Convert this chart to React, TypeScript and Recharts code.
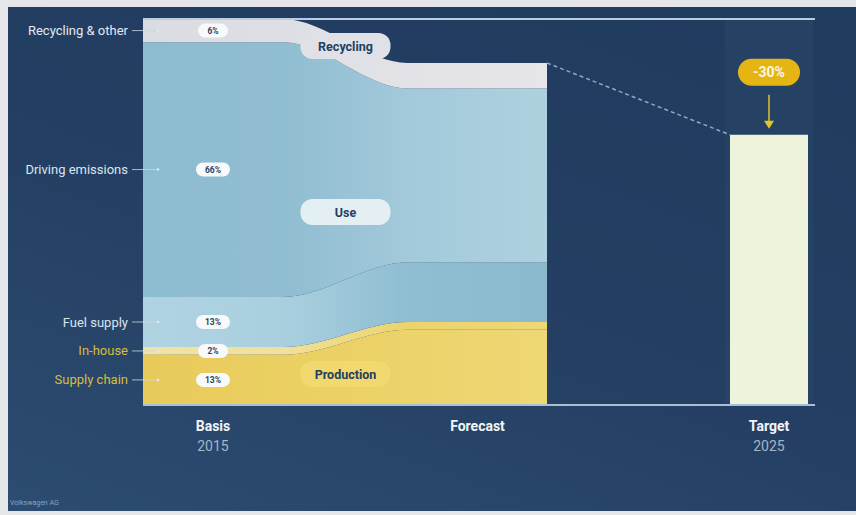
import React from "react";
import {
  ComposedChart,
  Area,
  Line,
  Scatter,
  XAxis,
  YAxis,
  ReferenceLine,
} from "recharts";

// Timeline (numeric x): basis start, basis end, forecast start, forecast end,
// target zone start, target bar start, target bar end, target zone end
const timeline = [0, 140, 265, 404, 582, 587, 665, 670];
const supplyChain = [13, 13, 19.5, 19.5, null, null, null, null];
const inHouse = [2, 2, 2, 2, null, null, null, null];
const fuelSupply = [13, 13, 15.5, 15.5, null, null, null, null];
const driving = [66, 66, 45, 45, null, null, null, null];
const recycling = [6, 6, 6.6, 6.6, null, null, null, null];
const trend = [null, null, null, 88.6, null, 70, null, null];
const target = [null, null, null, null, null, 70, 70, null];
const targetZone = [null, null, null, null, 100, null, null, 100];

const categories = ["Supply chain", "In-house", "Fuel supply", "Driving emissions", "Recycling & other"];
const categoryColors = ["#d9bd3c", "#d9bd3c", "#dbe5ee", "#dbe5ee", "#e3eaf1"];
const basisSeries = [supplyChain, inHouse, fuelSupply, driving, recycling];

const stageNames = ["Basis", "Forecast", "Target"];
const stageYears = ["2015", "", "2025"];

const phaseNames = ["Recycling", "Use", "Production"];
const phaseLevels = [93, 50, 8];
const phaseFills = ["#dfe1e6", "#e4eff4", "#f1d86f"];

const yTicks = [0, 20, 40, 60, 80, 100];

const rows = timeline.map((t, i) => ({
  t,
  supplyChain: supplyChain[i],
  inHouse: inHouse[i],
  fuelSupply: fuelSupply[i],
  driving: driving[i],
  recycling: recycling[i],
  trend: trend[i],
  target: target[i],
  targetZone: targetZone[i],
}));

const basisValues = basisSeries.map((s) => s[0] as number);
const basisMids = basisValues.map((v, i) => {
  const below = basisValues.slice(0, i).reduce((a, b) => a + b, 0);
  return below + v / 2;
});
const basisCenter = (timeline[0] + timeline[1]) / 2;
const forecastCenter = (timeline[2] + timeline[3]) / 2;
const transitionCenter = (timeline[1] + timeline[2]) / 2;
const targetCenter = (timeline[5] + timeline[6]) / 2;
const targetValue = target[5] as number;
const stageTicks = [basisCenter, forecastCenter, targetCenter];

const basisPills = basisValues.map((v, i) => ({ t: basisCenter, v: basisMids[i], label: `${v}%` }));
const phasePills = phaseNames.map((n, i) => ({ t: transitionCenter, v: phaseLevels[i], label: n, fill: phaseFills[i] }));
const targetBadge = [{ t: targetCenter, v: targetValue, label: `${Math.round(targetValue - 100)}%` }];

const FONT = "Roboto, 'Noto Sans', sans-serif";

const LeftTick = (props: any) => {
  const { x, y, payload } = props;
  const idx = basisMids.indexOf(payload.value);
  if (idx < 0) return null;
  return (
    <g>
      <text x={x - 15} y={y} dy={4.5} textAnchor="end" fontSize={13} fill={categoryColors[idx]} fontFamily={FONT}>
        {categories[idx]}
      </text>
      <line x1={x - 11} x2={x + 14} y1={y} y2={y} stroke="#c9d8e4" strokeWidth={1} opacity={0.8} />
      <circle cx={x + 15} cy={y} r={1.3} fill="#dfe9f1" />
    </g>
  );
};

const BottomTick = (props: any) => {
  const { x, y, payload } = props;
  const idx = stageTicks.indexOf(payload.value);
  if (idx < 0) return null;
  return (
    <g>
      <text x={x} y={y} dy={26} textAnchor="middle" fontSize={14} fontWeight={700} fill="#f2f5f8" fontFamily={FONT}>
        {stageNames[idx]}
      </text>
      {stageYears[idx] ? (
        <text x={x} y={y} dy={46} textAnchor="middle" fontSize={14} fill="#a4b6c9" fontFamily={FONT}>
          {stageYears[idx]}
        </text>
      ) : null}
    </g>
  );
};

const BasisPill = (props: any) => {
  const { cx, cy, payload } = props;
  const w = payload.label.length > 2 ? 34 : 30;
  return (
    <g>
      <rect x={cx - w / 2} y={cy - 7} width={w} height={14} rx={7} fill="#f7f9fb" />
      <text x={cx} y={cy} dy={3} textAnchor="middle" fontSize={8.5} fontWeight={700} fill="#2a4566" fontFamily={FONT}>
        {payload.label}
      </text>
    </g>
  );
};

const PhasePill = (props: any) => {
  const { cx, cy, payload } = props;
  const w = 90;
  const h = 26;
  return (
    <g>
      <rect x={cx - w / 2} y={cy - h / 2} width={w} height={h} rx={12} fill={payload.fill} />
      <text x={cx} y={cy} dy={4.5} textAnchor="middle" fontSize={12.5} fontWeight={700} fill="#23405f" fontFamily={FONT}>
        {payload.label}
      </text>
    </g>
  );
};

const TargetBadge = (props: any) => {
  const { cx, cy, payload } = props;
  const y = cy;
  return (
    <g>
      <rect x={cx - 31} y={y - 76} width={62} height={27} rx={13.5} fill="#e5b514" />
      <text x={cx} y={y - 62.5} dy={5} textAnchor="middle" fontSize={14} fontWeight={700} fill="#fbf6e4" fontFamily={FONT}>
        {payload.label}
      </text>
      <line x1={cx} x2={cx} y1={y - 40} y2={y - 12} stroke="#e1c52a" strokeWidth={1.5} />
      <polygon points={`${cx - 5},${y - 14} ${cx + 5},${y - 14} ${cx},${y - 6}`} fill="#e1c52a" />
    </g>
  );
};

export default function App() {
  return (
    <div style={{ position: "absolute", left: 0, top: 0, width: 856, height: 515, background: "#e4e6e9", fontFamily: FONT }}>
      <div
        style={{
          position: "absolute",
          left: 8,
          top: 7,
          width: 848,
          height: 504,
          background: "linear-gradient(200deg, #1f3b5e 0%, #243f63 55%, #2d4c72 100%)",
        }}
      >
        <ComposedChart width={848} height={504} data={rows} margin={{ top: 12, right: 0, bottom: 0, left: 0 }}>
          <defs>
            <linearGradient id="gDriving" x1="0" y1="0" x2="1" y2="0">
              <stop offset="0" stopColor="#8dbbd0" />
              <stop offset="0.35" stopColor="#90bdd1" />
              <stop offset="0.66" stopColor="#a3c9da" />
              <stop offset="1" stopColor="#aed1df" />
            </linearGradient>
            <linearGradient id="gFuel" x1="0" y1="0" x2="1" y2="0">
              <stop offset="0" stopColor="#b0d3e2" />
              <stop offset="0.35" stopColor="#a9cfdf" />
              <stop offset="0.66" stopColor="#8fbdd1" />
              <stop offset="1" stopColor="#8bb9cd" />
            </linearGradient>
            <linearGradient id="gSupply" x1="0" y1="0" x2="1" y2="0">
              <stop offset="0" stopColor="#e8ca5a" />
              <stop offset="0.5" stopColor="#ebd165" />
              <stop offset="1" stopColor="#eed775" />
            </linearGradient>
            <linearGradient id="gInHouse" x1="0" y1="0" x2="1" y2="0">
              <stop offset="0" stopColor="#f1e3a2" />
              <stop offset="0.35" stopColor="#f0e09a" />
              <stop offset="0.66" stopColor="#ecd46c" />
              <stop offset="1" stopColor="#eed775" />
            </linearGradient>
            <linearGradient id="gRecycling" x1="0" y1="0" x2="1" y2="0">
              <stop offset="0" stopColor="#dadce1" />
              <stop offset="1" stopColor="#e6e5ea" />
            </linearGradient>
          </defs>

          <XAxis
            dataKey="t"
            type="number"
            domain={[0, 672]}
            ticks={stageTicks}
            tick={<BottomTick />}
            tickLine={false}
            tickSize={0}
            tickMargin={0}
            height={106}
            axisLine={{ stroke: "#a9bfd3", strokeWidth: 2 }}
            interval={0}
          />
          <YAxis
            yAxisId="left"
            orientation="left"
            width={135}
            domain={[0, 100]}
            ticks={basisMids}
            tick={<LeftTick />}
            tickLine={false}
            tickSize={0}
            tickMargin={0}
            axisLine={false}
            interval={0}
          />
          <YAxis
            yAxisId="right"
            orientation="right"
            width={41}
            domain={[0, 100]}
            ticks={yTicks}
            tickFormatter={(v: number) => `${v}%`}
            tick={{ fontSize: 9.5, fill: "#c7d3df", fontFamily: FONT }}
            tickLine={false}
            tickSize={0}
            tickMargin={6}
            axisLine={false}
            interval={0}
          />

          <Area yAxisId="left" type="linear" dataKey="targetZone" fill="#2a4769" fillOpacity={0.55} stroke="none" connectNulls isAnimationActive={false} />

          <ReferenceLine yAxisId="left" y={100} stroke="#b9cde0" strokeWidth={2} />

          <Area yAxisId="left" type="monotone" dataKey="supplyChain" stackId="s" fill="url(#gSupply)" fillOpacity={1} stroke="none" isAnimationActive={false} />
          <Area yAxisId="left" type="monotone" dataKey="inHouse" stackId="s" fill="url(#gInHouse)" fillOpacity={1} stroke="none" isAnimationActive={false} />
          <Area yAxisId="left" type="monotone" dataKey="fuelSupply" stackId="s" fill="url(#gFuel)" fillOpacity={1} stroke="none" isAnimationActive={false} />
          <Area yAxisId="left" type="monotone" dataKey="driving" stackId="s" fill="url(#gDriving)" fillOpacity={1} stroke="none" isAnimationActive={false} />
          <Area yAxisId="left" type="monotone" dataKey="recycling" stackId="s" fill="url(#gRecycling)" fillOpacity={1} stroke="none" isAnimationActive={false} />

          <Line yAxisId="left" type="linear" dataKey="trend" stroke="#8ea8c3" strokeWidth={1.5} strokeDasharray="4 3" dot={false} connectNulls isAnimationActive={false} />

          <Area yAxisId="left" type="linear" dataKey="target" fill="#eef3dc" fillOpacity={1} stroke="none" isAnimationActive={false} />

          <Scatter yAxisId="left" data={basisPills} dataKey="v" shape={<BasisPill />} isAnimationActive={false} />
          <Scatter yAxisId="left" data={phasePills} dataKey="v" shape={<PhasePill />} isAnimationActive={false} />
          <Scatter yAxisId="left" data={targetBadge} dataKey="v" shape={<TargetBadge />} isAnimationActive={false} />
        </ComposedChart>
        <div style={{ position: "absolute", left: 2, bottom: 4, fontSize: 7, color: "#8ea2b9", fontFamily: FONT }}>
          Volkswagen AG
        </div>
      </div>
    </div>
  );
}
